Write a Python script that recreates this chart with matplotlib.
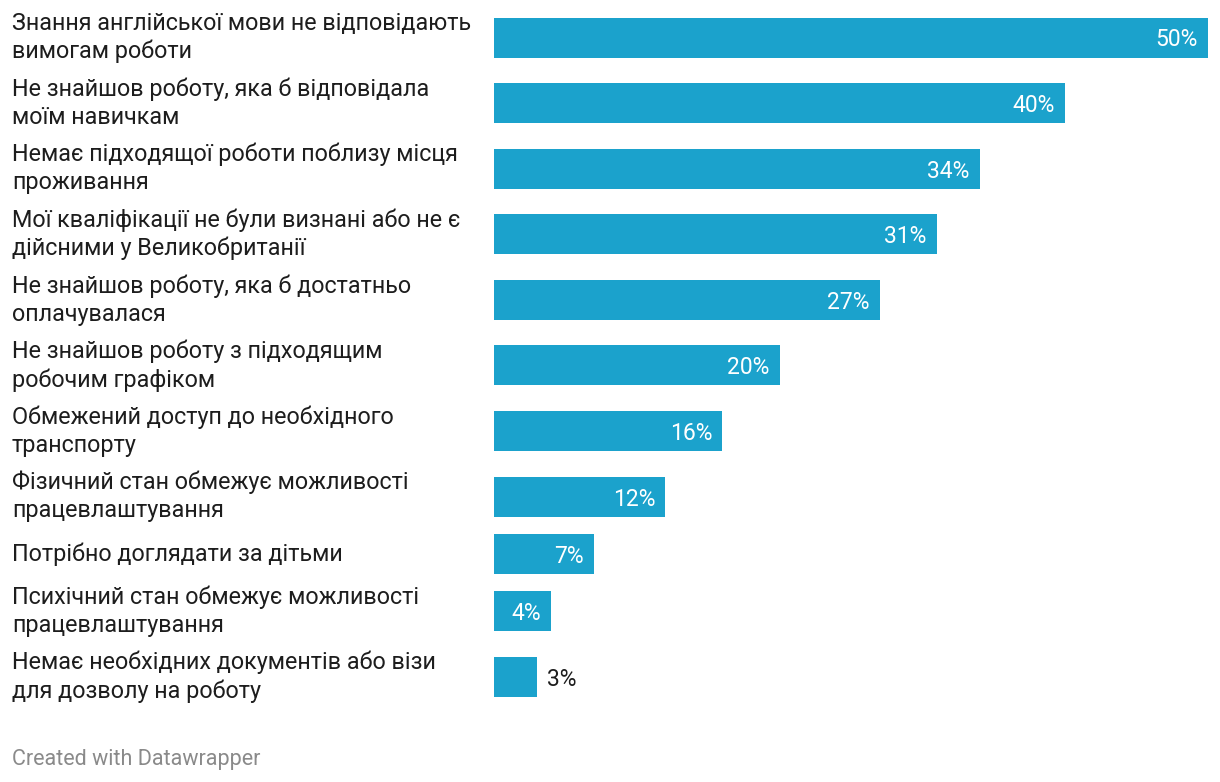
import matplotlib
matplotlib.use('Agg')
import matplotlib.pyplot as plt
from matplotlib.transforms import blended_transform_factory

labels = [
    "Знання англійської мови не відповідають\nвимогам роботи",
    "Не знайшов роботу, яка б відповідала\nмоїм навичкам",
    "Немає підходящої роботи поблизу місця\nпроживання",
    "Мої кваліфікації не були визнані або не є\nдійсними у Великобританії",
    "Не знайшов роботу, яка б достатньо\nоплачувалася",
    "Не знайшов роботу з підходящим\nробочим графіком",
    "Обмежений доступ до необхідного\nтранспорту",
    "Фізичний стан обмежує можливості\nпрацевлаштування",
    "Потрібно доглядати за дітьми",
    "Психічний стан обмежує можливості\nпрацевлаштування",
    "Немає необхідних документів або візи\nдля дозволу на роботу",
]
values = [50, 40, 34, 31, 27, 20, 16, 12, 7, 4, 3]

BAR_COLOR = "#1ba2cc"
TEXT_COLOR = "#1d1d1d"
FONT = "Roboto"
FS = 16.8
FS_VAL = 16.5

W, H = 1220, 782
fig = plt.figure(figsize=(W / 100, H / 100), dpi=100)
ax = fig.add_axes([494 / W, 0, (1208 - 494) / W, 1])
ax.set_xlim(0, max(values))
ax.set_ylim(H, 0)
ax.axis('off')

# row layout (pixel units) driven by number of label lines
BAR_H, LINE_H, GAP, TOP = 40, 28.5, 8.6, 4.7
centers = []
y = TOP
for lab in labels:
    n = lab.count("\n") + 1
    rh = max(BAR_H, LINE_H * n) + GAP
    centers.append(y + rh / 2)
    y += rh

ax.barh(centers, values, height=BAR_H, color=BAR_COLOR, left=0)

tr = blended_transform_factory(fig.transFigure, ax.transData)
for lab, c in zip(labels, centers):
    ax.text(12 / W, c, lab, transform=tr, ha='left', va='center',
            fontsize=FS, family=FONT, color=TEXT_COLOR, linespacing=1.28)

fig.canvas.draw()
renderer = fig.canvas.get_renderer()
px_per_unit = (1208 - 494) / max(values)
pad_pt = 10 * 0.72
for v, c in zip(values, centers):
    s = f"{v}%"
    t = ax.annotate(s, xy=(v, c), xytext=(-pad_pt, 0), textcoords='offset points',
                    ha='right', va='center_baseline', fontsize=FS_VAL, family=FONT,
                    color='white')
    bb = t.get_window_extent(renderer)
    if bb.width + 20 > v * px_per_unit:
        t.remove()
        ax.annotate(s, xy=(v, c), xytext=(pad_pt, 0), textcoords='offset points',
                    ha='left', va='center_baseline', fontsize=FS_VAL, family=FONT,
                    color=TEXT_COLOR)

fig.text(12 / W, 1 - 759 / H, "Created with Datawrapper", ha='left', va='center',
         fontsize=15.5, family=FONT, color='#8a8a8a')

fig.savefig("out.png", dpi=100, facecolor='white')
